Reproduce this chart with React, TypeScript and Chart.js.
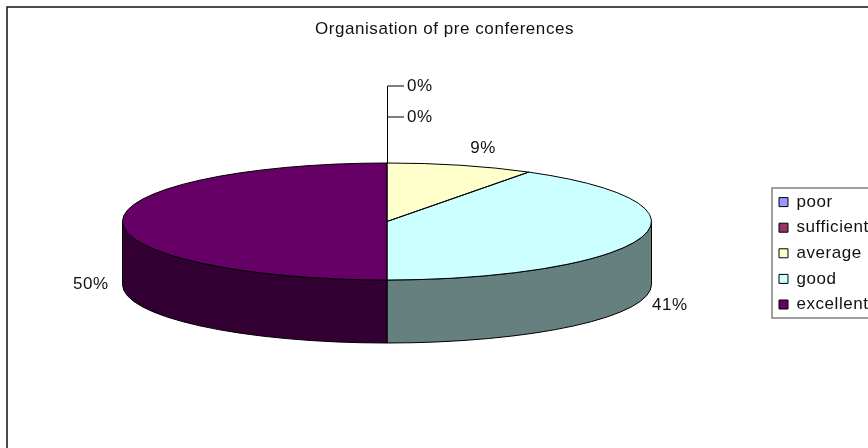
import React, { useEffect, useRef } from "react";
import { Chart, registerables } from "chart.js";

Chart.register(...registerables);

const chartTitle = "Organisation of pre conferences";
const categories = ["poor", "sufficient", "average", "good", "excellent"];
const shares = [0, 0, 9, 41, 50];
const sliceColors = ["#9999FF", "#993366", "#FFFFCC", "#CCFFFF", "#660066"];
const labelAnchors: [number, number, CanvasTextAlign][] = [
  [407, 86, "left"],
  [407, 117, "left"],
  [483, 148, "center"],
  [652, 305, "left"],
  [73, 284, "left"],
];

const FONT = '"Liberation Sans", Arial, sans-serif';
const FONT_SIZE = 17;
const TRACKING = "0.55px";
const TEXT = "#111111";
const PIE = { cx: 387, cy: 221.5, rx: 264.5, ry: 58.5, depth: 63 };
const FRAME = { x: 7, y: 7 };
const LEGEND = { left: 772, top: 188, bottom: 318, padding: 8.6, itemLeft: 779, itemTop: 185 };

function halfShade(hex: string) {
  const n = parseInt(hex.slice(1), 16);
  const c = (v: number) => Math.round(v / 2);
  return `rgb(${c((n >> 16) & 255)},${c((n >> 8) & 255)},${c(n & 255)})`;
}

const pie3d = {
  id: "pie3d",
  beforeUpdate(chart: any) {
    chart.ctx.letterSpacing = TRACKING;
  },
  afterLayout(chart: any) {
    const t = chart.titleBlock;
    if (t) {
      t.left = 21;
      t.right = 868;
      t.top = 29 - t.height / 2;
    }
    const l = chart.legend;
    l.left = LEGEND.itemLeft - LEGEND.padding;
    l.right = 900;
    l.width = l.right - l.left;
    l.top = LEGEND.itemTop;
    l.bottom = 340;
    l.height = l.bottom - l.top;
  },
  beforeDraw(chart: any) {
    const ctx = chart.ctx;
    ctx.letterSpacing = TRACKING;
    ctx.save();
    ctx.fillStyle = "#fff";
    ctx.fillRect(0, 0, 868, 448);
    ctx.strokeStyle = "#111";
    ctx.lineWidth = 1.5;
    ctx.strokeRect(FRAME.x, FRAME.y, 900, 500);
    ctx.strokeStyle = "#808080";
    ctx.lineWidth = 1.5;
    ctx.strokeRect(LEGEND.left, LEGEND.top, 200, LEGEND.bottom - LEGEND.top);
    ctx.restore();
  },
  beforeDatasetsDraw(chart: any) {
    const ctx = chart.ctx;
    const arcs = chart.getDatasetMeta(0).data;
    const { cx, cy, rx, ry, depth } = PIE;
    ctx.save();
    ctx.strokeStyle = "#000";
    ctx.lineWidth = 1;
    arcs.forEach((arc: any, i: number) => {
      const a = Math.max(arc.startAngle, 0);
      const b = Math.min(arc.endAngle, Math.PI);
      if (b <= a) return;
      ctx.beginPath();
      ctx.ellipse(cx, cy, rx, ry, 0, a, b);
      ctx.ellipse(cx, cy + depth, rx, ry, 0, b, a, true);
      ctx.closePath();
      ctx.fillStyle = halfShade(sliceColors[i]);
      ctx.fill();
      ctx.stroke();
    });
    ctx.restore();
    const first = arcs[0];
    const R = first.outerRadius;
    ctx.save();
    ctx.translate(cx, cy);
    ctx.scale(rx / R, ry / R);
    ctx.translate(-first.x, -first.y);
  },
  afterDatasetsDraw(chart: any) {
    const ctx = chart.ctx;
    ctx.restore();
    const arcs = chart.getDatasetMeta(0).data;
    const { cx, cy, rx, ry } = PIE;
    ctx.save();
    ctx.strokeStyle = "#000";
    ctx.lineWidth = 1;
    arcs.forEach((arc: any) => {
      if (arc.endAngle - arc.startAngle <= 0) return;
      ctx.beginPath();
      ctx.moveTo(cx, cy);
      ctx.ellipse(cx, cy, rx, ry, 0, arc.startAngle, arc.endAngle);
      ctx.closePath();
      ctx.stroke();
    });
    // leader lines of the two empty slices
    const topY = cy - ry;
    ctx.beginPath();
    ctx.moveTo(cx + 0.5, topY);
    ctx.lineTo(cx + 0.5, labelAnchors[0][1]);
    ctx.lineTo(labelAnchors[0][0] - 3, labelAnchors[0][1]);
    ctx.moveTo(cx + 0.5, labelAnchors[1][1]);
    ctx.lineTo(labelAnchors[1][0] - 3, labelAnchors[1][1]);
    ctx.stroke();
    ctx.fillStyle = TEXT;
    ctx.font = `${FONT_SIZE}px ${FONT}`;
    ctx.textBaseline = "middle";
    shares.forEach((v, i) => {
      const [x, y, align] = labelAnchors[i];
      ctx.textAlign = align;
      ctx.fillText(`${v}%`, x, y);
    });
    ctx.restore();
  },
};

export default function App() {
  const ref = useRef<HTMLCanvasElement>(null);
  useEffect(() => {
    const canvas = ref.current!;
    const baseLabels = (Chart as any).overrides.pie.plugins.legend.labels.generateLabels;
    const chart = new Chart(canvas, {
      type: "pie",
      data: {
        labels: categories,
        datasets: [{ data: shares, backgroundColor: sliceColors, borderWidth: 0 }],
      },
      options: {
        responsive: false,
        animation: false,
        plugins: {
          tooltip: { enabled: false },
          title: {
            display: true,
            text: chartTitle,
            color: TEXT,
            font: { family: FONT, size: FONT_SIZE, weight: "normal" },
            padding: 0,
          },
          legend: {
            display: true,
            position: "right",
            align: "start",
            labels: {
              boxWidth: 9,
              boxHeight: 9,
              padding: LEGEND.padding,
              color: TEXT,
              font: { family: FONT, size: FONT_SIZE },
              generateLabels: (c: any) =>
                baseLabels(c).map((item: any) => ({ ...item, strokeStyle: "#000", lineWidth: 1 })),
            },
          },
        },
      } as any,
      plugins: [pie3d],
    });
    return () => chart.destroy();
  }, []);
  return (
    <div style={{ position: "absolute", left: 0, top: 0, width: 868, height: 448, overflow: "hidden", background: "#fff" }}>
      <canvas ref={ref} width={868} height={448} style={{ display: "block" }} />
    </div>
  );
}
